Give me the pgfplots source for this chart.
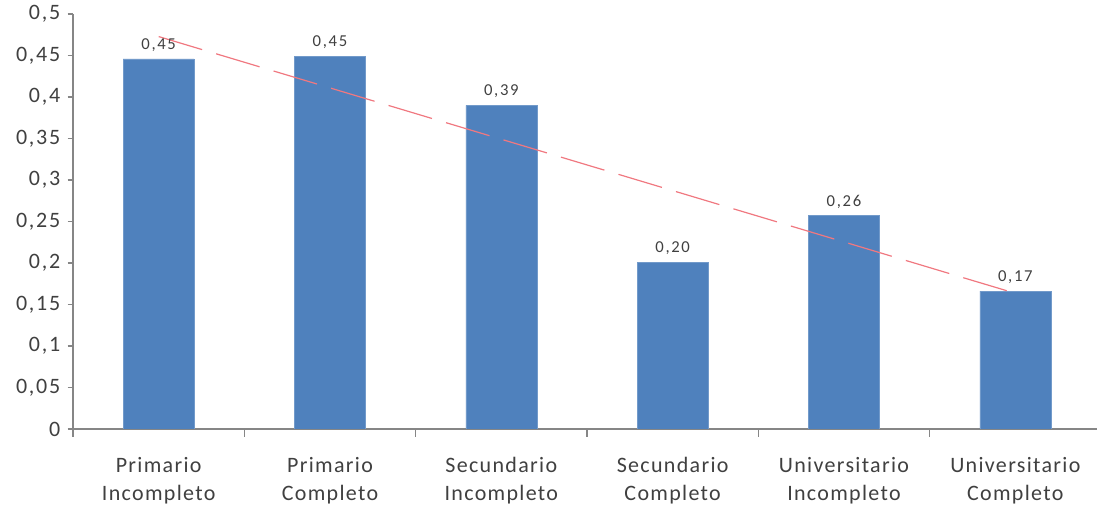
\documentclass[border=0pt]{standalone}
\usepackage{pgfplots}
\pgfplotsset{compat=1.18}
\usepackage{fontspec}
\setmainfont{Carlito}
\newfontfamily\ylbl[LetterSpace=8]{Carlito}
\newfontfamily\xlbl[LetterSpace=6]{Carlito}
\newfontfamily\blbl[LetterSpace=10]{Carlito}
\definecolor{barblue}{HTML}{4F81BD}
\definecolor{axgray}{HTML}{868686}
\definecolor{txtgray}{HTML}{404040}
\definecolor{trendred}{HTML}{F07880}
\begin{document}
\begin{tikzpicture}
\path[use as bounding box] (-54.75pt,-60pt) rectangle (768pt,321.75pt);
\begin{axis}[
  at={(0,0)}, anchor=origin,
  scale only axis,
  width=771pt, height=311.25pt,
  xmin=0.5, xmax=6.5, ymin=0, ymax=0.5,
  axis x line*=bottom, axis y line*=left,
  axis line style={axgray, line width=0.9pt},
  ytick={0,0.05,...,0.5},
  yticklabels={0,{0,05},{0,1},{0,15},{0,2},{0,25},{0,3},{0,35},{0,4},{0,45},{0,5}},
  xtick={1,2,3,4,5,6},
  xticklabels={{Primario\\Incompleto},{Primario\\Completo},{Secundario\\Incompleto},{Secundario\\Completo},{Universitario\\Incompleto},{Universitario\\Completo}},
  minor xtick={0.5,1.5,...,6.5},
  x tick style={draw=none},
  minor x tick style={draw=axgray, line width=0.9pt},
  minor tick length=6pt,
  y tick style={axgray, line width=0.9pt},
  major tick length=4pt,
  tick align=outside,
  ticklabel style={text=txtgray},
  yticklabel style={font=\ylbl\fontsize{16.5}{18}\selectfont, xshift=-2pt},
  xticklabel style={font=\xlbl\fontsize{16.5}{21}\selectfont, align=center, yshift=-14pt},
  every node near coord/.append style={font=\blbl\fontsize{12.5}{14}\selectfont, text=txtgray, yshift=2pt},
]
\addplot[ybar, bar width=53.25pt, fill=barblue, draw=barblue!80!white, line width=0.4pt,
  nodes near coords, point meta=explicit symbolic]
  coordinates {(1,0.446)[0,45] (2,0.449)[0,45] (3,0.390)[0,39] (4,0.201)[0,20] (5,0.257)[0,26] (6,0.166)[0,17]};
\addplot[trendred, line width=0.9pt, dash pattern=on 34pt off 11pt]
  coordinates {(1,0.4728) (6,0.1635)};
\end{axis}
\end{tikzpicture}
\end{document}
